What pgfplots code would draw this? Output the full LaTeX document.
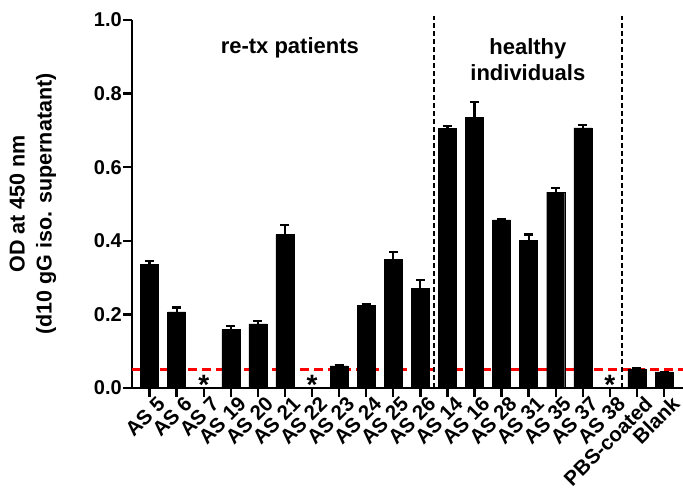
\documentclass[border=0pt]{standalone}
\usepackage{pgfplots}
\pgfplotsset{compat=1.18}
\usepackage{pgfplotstable}
\usepackage{fontspec}
\setmainfont{Liberation Sans}
\pgfplotstableread{
x y err
0 0.336 0.009
1 0.207 0.012
3 0.159 0.010
4 0.174 0.009
5 0.417 0.026
7 0.060 0.002
8 0.225 0.004
9 0.350 0.020
10 0.270 0.023
11 0.705 0.007
12 0.736 0.042
13 0.457 0.003
14 0.402 0.015
15 0.532 0.011
16 0.707 0.008
18 0.052 0.002
19 0.044 0.000
}\bardata
\begin{document}
\begin{tikzpicture}
\useasboundingbox (0,0) rectangle (683pt,489pt);
\begin{axis}[
  at={(132pt,101pt)}, anchor=south west,
  scale only axis, width=551pt, height=368pt,
  xmin=-0.65, xmax=19.7, ymin=0, ymax=1.0,
  axis x line=bottom, axis y line=left,
  axis line style={line width=2.8pt, -},
  every tick/.style={line width=2.4pt, black},
  tick align=outside, major tick length=9pt,
  xtick={0,...,19},
  xticklabels={AS 5,AS 6,AS 7,AS 19,AS 20,AS 21,AS 22,AS 23,AS 24,AS 25,AS 26,AS 14,AS 16,AS 28,AS 31,AS 35,AS 37,AS 38,PBS-coated,Blank},
  ytick={0,0.2,...,1.0},
  yticklabel style={/pgf/number format/fixed, /pgf/number format/fixed zerofill, /pgf/number format/precision=1, /pgf/number format/assume math mode=true, font=\bfseries\fontsize{20}{20}\selectfont, inner sep=1pt},
  xticklabel style={rotate=45, anchor=north east, font=\bfseries\fontsize{20.5}{22}\selectfont, inner sep=0pt, xshift=6pt, yshift=-3pt},
  ylabel={OD at 450 nm\\(d10 gG iso. supernatant)},
  ylabel style={at={(axis description cs:-0.18,0.5)}, anchor=center, align=center, font=\bfseries\fontsize{21.5}{27}\selectfont},
  clip=false,
]
\addplot[red, line width=3pt, dash pattern=on 9pt off 5pt, forget plot] coordinates {(-0.65,0.05) (19.7,0.05)};
\addplot[black, line width=2.5pt, dash pattern=on 5pt off 3pt, forget plot] coordinates {(10.5,0) (10.5,1.012)};
\addplot[black, line width=2.5pt, dash pattern=on 5pt off 3pt, forget plot] coordinates {(17.45,0) (17.45,1.012)};
\addplot[ybar, bar width=18pt, fill=black, draw=black,
  error bars/.cd, y dir=plus, y explicit,
  error bar style={line width=2.2pt, black},
  error mark options={rotate=90, mark size=4.5pt, line width=2.2pt, black}]
  table[x=x, y=y, y error=err] {\bardata};
\node[font=\bfseries\fontsize{28}{28}\selectfont] at (axis cs:2,0.008) {*};
\node[font=\bfseries\fontsize{28}{28}\selectfont] at (axis cs:6,0.008) {*};
\node[font=\bfseries\fontsize{28}{28}\selectfont] at (axis cs:17,0.008) {*};
\node[font=\bfseries\fontsize{22}{26}\selectfont] at (axis cs:5.18,0.924) {re-tx patients};
\node[font=\bfseries\fontsize{22}{26}\selectfont, align=center] at (axis cs:13.97,0.893) {healthy\\individuals};
\end{axis}
\end{tikzpicture}
\end{document}
